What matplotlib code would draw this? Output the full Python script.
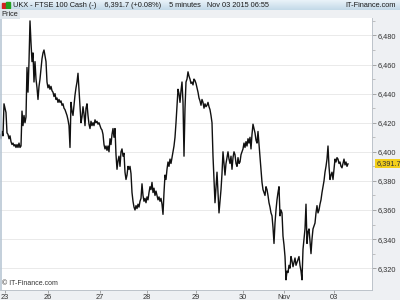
import numpy as np
import matplotlib.pyplot as plt
from matplotlib.ticker import FixedLocator, FuncFormatter

plt.rcParams['font.family'] = ['Liberation Sans', 'DejaVu Sans']

# 5-minute FTSE 100 closes, sampled roughly every 30 min (weekend removed)
prices = [
    6412, 6409, 6414, 6411, 6433, 6430, 6427, 6413, 6412, 6409,
    6411, 6407, 6405, 6406, 6404, 6405, 6403, 6405, 6403, 6406,
    6403, 6404, 6428, 6418, 6425, 6420, 6424, 6458, 6441, 6462,
    6490, 6475, 6462, 6468, 6448, 6462, 6450, 6444, 6436, 6445,
    6450, 6457, 6464, 6468, 6470, 6466, 6462, 6448, 6444, 6446,
    6443, 6445, 6442, 6441, 6438, 6440, 6436, 6437, 6434, 6436,
    6434, 6435, 6432, 6433, 6430, 6429, 6427, 6425, 6422, 6418,
    6403, 6434, 6428, 6425, 6432, 6439, 6444, 6448, 6454, 6443,
    6432, 6420, 6424, 6431, 6426, 6418, 6430, 6433, 6425, 6419,
    6416, 6421, 6418, 6420, 6418, 6422, 6420, 6421, 6419, 6420,
    6418, 6416, 6415, 6412, 6405, 6402, 6404, 6401, 6404, 6400,
    6409, 6405, 6412, 6416, 6410, 6416, 6398, 6388, 6394, 6397,
    6390, 6400, 6402, 6397, 6399, 6386, 6381, 6384, 6390, 6388,
    6390, 6385, 6372, 6366, 6362, 6360, 6363, 6361, 6364, 6362,
    6366, 6368, 6378, 6370, 6366, 6368, 6365, 6369, 6367, 6372,
    6376, 6374, 6379, 6372, 6375, 6370, 6373, 6370, 6367, 6369,
    6366, 6368, 6364, 6357, 6372, 6384, 6381, 6388, 6393, 6390,
    6395, 6392, 6396, 6400, 6404, 6410, 6420, 6432, 6443, 6440,
    6434, 6442, 6448, 6434, 6397, 6430, 6448, 6450, 6455, 6452,
    6450, 6447, 6448, 6446, 6450, 6449, 6447, 6444, 6441, 6437,
    6435, 6432, 6436, 6434, 6430, 6433, 6431, 6432, 6434, 6431,
    6429, 6425, 6420, 6397, 6381, 6365, 6376, 6386, 6372, 6358,
    6366, 6374, 6385, 6400, 6392, 6384, 6392, 6396, 6400, 6395,
    6392, 6397, 6388, 6396, 6400, 6398, 6392, 6390, 6396, 6392,
    6393, 6398, 6400, 6402, 6406, 6403, 6407, 6404, 6409, 6406,
    6410, 6402, 6412, 6419, 6416, 6413, 6408, 6406, 6414, 6405,
    6397, 6388, 6379, 6374, 6372, 6370, 6376, 6374, 6370, 6365,
    6362, 6358, 6356, 6348, 6337, 6351, 6360, 6367, 6372, 6376,
    6356, 6360, 6358, 6342, 6336, 6328, 6312, 6318, 6317, 6322,
    6320, 6328, 6325, 6321, 6324, 6327, 6322, 6324, 6326, 6328,
    6322, 6318, 6312, 6333, 6340, 6347, 6364, 6337, 6345, 6347,
    6338, 6330, 6340, 6347, 6349, 6351, 6358, 6363, 6358, 6360,
    6364, 6367, 6372, 6376, 6380, 6386, 6390, 6395, 6404, 6390,
    6381, 6384, 6386, 6381, 6388, 6395, 6393, 6396, 6395, 6392,
    6393, 6390, 6389, 6392, 6395, 6391, 6393, 6390, 6391.7,
]
day_labels = ['23', '26', '27', '28', '29', '30', 'Nov', '03']
day_pos = [5, 48, 100, 147, 196, 243, 284, 334]   # sample index of each day's start
price_ticks = [6320, 6340, 6360, 6380, 6400, 6420, 6440, 6460, 6480]
last_price = 6391.7

x = np.arange(len(prices))

fig = plt.figure(figsize=(4, 3), dpi=100)
fig.patch.set_facecolor('#eef0f3')

# header bar
hdr = fig.add_axes([0, 1 - 10 / 300, 1, 10 / 300])
grad = np.linspace(0, 1, 50).reshape(-1, 1)
hdr.imshow(grad, aspect='auto', cmap=plt.matplotlib.colors.LinearSegmentedColormap.from_list(
    'h', ['#eaf3f9', '#c3d9e8']), extent=[0, 1, 0, 1])
hdr.set_xlim(0, 1)
hdr.set_ylim(0, 1)
hdr.axis('off')
hdr.add_patch(plt.Rectangle((0.006, 0.2), 0.008, 0.55, color='#d42020'))
hdr.add_patch(plt.Rectangle((0.016, 0.2), 0.008, 0.6, color='#20a020'))
hdr.text(0.033, 0.45, 'UKX - FTSE 100 Cash (-)    6,391.7 (+0.08%)    5 minutes   Nov 03 2015 06:55',
         fontsize=5.3, va='center', ha='left', color='#1a1a1a')
hdr.text(0.99, 0.45, 'IT-Finance.com', fontsize=5.3, va='center', ha='right', color='#1a1a1a')

ax = fig.add_axes([0, 10 / 300, 372 / 400, 272 / 300])
ax.set_facecolor('white')
ax.plot(x, prices, color='#111111', lw=1.0)
ax.set_xlim(0, 372)
ax.set_ylim(6305, 6492)

ax.yaxis.tick_right()
ax.yaxis.set_major_locator(FixedLocator(price_ticks))
ax.yaxis.set_minor_locator(FixedLocator([p + 10 for p in price_ticks]))
ax.yaxis.set_major_formatter(FuncFormatter(lambda v, p: f'{v:,.0f}'))
ax.tick_params(axis='y', which='major', labelsize=5.3, length=3, width=0.5,
               color='#888888', labelcolor='#333333', pad=1)
ax.tick_params(axis='y', which='minor', length=2, width=0.5, color='#aaaaaa')
ax.grid(axis='y', color='#e6e6e6', lw=0.6)
ax.set_axisbelow(True)

ax.set_xticks(day_pos)
ax.set_xticklabels(day_labels)
ax.tick_params(axis='x', labelsize=5.3, length=2, width=0.5, color='#888888',
               labelcolor='#333333', pad=1)

for s in ['top', 'left']:
    ax.spines[s].set_visible(False)
for s in ['right', 'bottom']:
    ax.spines[s].set_color('#b5bcc4')
    ax.spines[s].set_linewidth(0.6)
ax.axvline(0.6, color='#b9c7d4', lw=1.2)

# last price marker
ax.annotate(f'{last_price:,.1f}', xy=(1.0, last_price), xycoords=('axes fraction', 'data'),
            xytext=(3, 0), textcoords='offset points', fontsize=5.3, va='center', ha='left',
            color='#333333', bbox=dict(boxstyle='square,pad=0.15', fc='#f3cf1a', ec='none'),
            annotation_clip=False)

# "Price" tag and watermark
fig.text(0.004, 1 - 14 / 300, 'Price', fontsize=5.3, va='center', ha='left', color='#222222',
         bbox=dict(boxstyle='square,pad=0.2', fc='#dfe6ec', ec='none'))
ax.text(0.005, 0.01, '© IT-Finance.com', transform=ax.transAxes, fontsize=5, color='#333333',
        va='bottom', ha='left')

fig.savefig('out.png', dpi=100, facecolor=fig.get_facecolor())
